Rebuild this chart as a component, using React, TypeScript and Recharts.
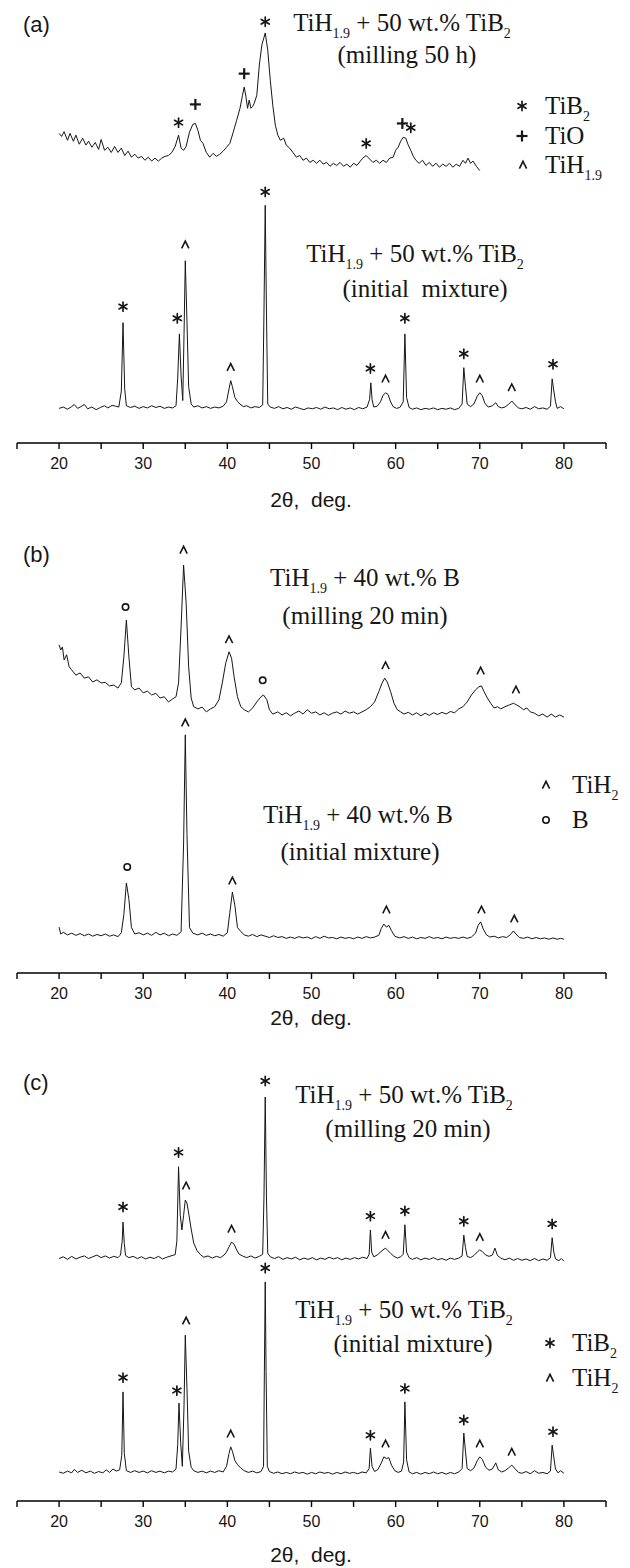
import React from 'react'
import { ComposedChart, Line, Scatter, XAxis, YAxis } from 'recharts'

type Pt = [number, number]
type Mk = [number, number, string]

const xTicks = [15, 20, 25, 30, 35, 40, 45, 50, 55, 60, 65, 70, 75, 80, 85]
const xTitle = '2\u03b8,\u00a0 deg.'

// (a) TiH1.9 + 50 wt.% TiB2, milling 50 h (offset upward)
const aMilled: Pt[] = [
  [20.0, 71.5], [20.3, 70.8], [20.6, 71.9], [21.0, 69.9], [21.3, 71.5], [21.7, 69.7], [22.0, 71.1], [22.4, 69.0],
  [22.8, 70.4], [23.2, 68.8], [23.5, 69.7], [23.9, 68.3], [24.3, 69.4], [24.7, 67.8], [25.0, 70.1], [25.4, 67.6],
  [25.8, 68.3], [26.2, 67.1], [26.6, 68.5], [27.0, 67.1], [27.4, 68.1], [27.8, 66.4], [28.2, 67.4], [28.6, 66.0],
  [29.0, 66.7], [29.4, 65.8], [29.8, 66.2], [30.2, 65.3], [30.6, 66.0], [31.0, 65.1], [31.4, 65.8], [31.8, 65.1],
  [32.2, 65.8], [32.6, 66.2], [33.0, 66.4], [33.4, 67.1], [33.8, 68.5], [34.2, 71.1], [34.5, 68.1], [34.8, 67.6],
  [35.1, 68.5], [35.5, 71.8], [35.9, 73.6], [36.2, 73.8], [36.5, 72.2], [36.8, 69.9], [37.1, 69.2], [37.5, 67.1],
  [37.9, 66.0], [38.3, 66.9], [38.7, 66.2], [39.1, 66.7], [39.5, 67.4], [39.9, 68.3], [40.3, 69.2], [40.7, 71.8],
  [41.1, 74.5], [41.5, 77.3], [41.8, 80.3], [42.0, 82.2], [42.2, 80.1], [42.4, 77.3], [42.6, 79.2], [42.8, 77.3],
  [43.0, 77.7], [43.2, 78.5], [43.5, 80.3], [43.8, 87.3], [44.1, 91.9], [44.5, 94.7], [44.8, 90.8], [45.1, 83.8],
  [45.4, 78.0], [45.7, 73.4], [46.0, 71.1], [46.3, 69.9], [46.7, 70.4], [47.0, 68.8], [47.4, 68.1], [47.8, 67.1],
  [48.2, 66.0], [48.6, 66.4], [49.0, 65.3], [49.4, 65.8], [49.8, 64.8], [50.2, 65.3], [50.6, 64.6], [51.0, 65.3],
  [51.4, 64.4], [51.8, 64.8], [52.2, 63.9], [52.6, 64.6], [53.0, 64.1], [53.4, 64.8], [53.8, 63.9], [54.2, 64.4],
  [54.6, 63.7], [55.0, 64.6], [55.4, 64.1], [55.8, 65.1], [56.1, 65.8], [56.5, 66.4], [56.9, 65.6], [57.3, 64.8],
  [57.7, 65.3], [58.1, 64.6], [58.5, 65.3], [58.9, 64.8], [59.3, 65.8], [59.7, 66.0], [60.0, 67.6], [60.3, 68.3],
  [60.6, 69.7], [60.9, 70.6], [61.2, 70.4], [61.5, 68.8], [61.8, 67.6], [62.1, 66.2], [62.4, 65.3], [62.8, 64.6],
  [63.2, 65.3], [63.6, 64.1], [64.0, 64.8], [64.4, 63.9], [64.8, 64.6], [65.2, 63.7], [65.6, 64.4], [66.0, 63.9],
  [66.4, 64.6], [66.8, 63.7], [67.2, 64.4], [67.6, 63.9], [68.0, 65.3], [68.3, 64.6], [68.6, 65.8], [68.9, 64.6],
  [69.2, 65.1], [69.6, 63.9], [70.0, 62.9],
]

// (a) initial mixture
const aInitial: Pt[] = [
  [20.0, 8.0], [20.5, 8.3], [21.0, 7.8], [21.5, 8.4], [21.8, 8.9], [22.2, 8.0], [22.7, 8.5], [23.0, 8.9],
  [23.4, 7.9], [23.9, 8.3], [24.4, 7.7], [24.9, 8.2], [25.4, 8.6], [25.8, 8.1], [26.3, 8.7], [26.7, 8.5],
  [27.1, 8.3], [27.4, 12.0], [27.6, 27.8], [27.8, 12.5], [28.0, 8.6], [28.5, 8.2], [29.0, 8.5], [29.5, 8.0],
  [30.0, 8.4], [30.5, 8.1], [31.0, 8.6], [31.5, 8.2], [32.0, 8.5], [32.5, 8.0], [33.0, 8.3], [33.5, 8.1],
  [33.9, 8.6], [34.1, 15.0], [34.3, 25.2], [34.5, 15.5], [34.7, 9.8], [34.85, 25.0], [35.0, 42.1], [35.2, 28.0],
  [35.4, 13.0], [35.7, 9.0], [36.0, 8.3], [36.5, 8.6], [37.0, 8.1], [37.5, 8.4], [38.0, 8.0], [38.5, 8.3],
  [39.0, 8.1], [39.5, 8.5], [39.9, 9.5], [40.2, 12.5], [40.4, 14.4], [40.6, 13.0], [40.9, 10.5], [41.2, 9.6],
  [41.5, 9.0], [41.9, 8.4], [42.3, 8.6], [42.8, 8.1], [43.3, 8.4], [43.8, 8.2], [44.2, 8.8], [44.35, 30.0],
  [44.5, 54.9], [44.65, 30.0], [44.8, 9.0], [45.1, 8.3], [45.6, 8.0], [46.1, 8.4], [46.6, 7.9], [47.1, 8.2],
  [47.6, 7.8], [48.1, 8.3], [48.6, 8.0], [49.1, 7.7], [49.6, 8.1], [50.1, 7.9], [50.6, 8.2], [51.1, 7.8],
  [51.6, 8.3], [52.1, 7.9], [52.6, 8.1], [53.1, 7.7], [53.6, 8.2], [54.1, 7.8], [54.6, 8.1], [55.1, 7.7],
  [55.6, 8.2], [56.1, 7.9], [56.6, 8.3], [56.9, 10.0], [57.05, 13.9], [57.2, 10.0], [57.4, 8.3], [57.8, 8.5],
  [58.2, 9.5], [58.5, 11.0], [58.8, 11.6], [59.1, 11.2], [59.4, 9.5], [59.7, 8.4], [60.1, 8.0], [60.5, 8.2],
  [60.9, 9.5], [61.1, 25.2], [61.3, 10.5], [61.6, 8.2], [62.0, 7.8], [62.5, 8.1], [63.0, 7.7], [63.5, 8.0],
  [64.0, 7.8], [64.5, 8.1], [65.0, 7.7], [65.5, 8.0], [66.0, 7.8], [66.5, 8.1], [67.0, 7.7], [67.5, 8.0],
  [67.9, 9.0], [68.1, 17.4], [68.3, 13.0], [68.5, 9.0], [68.9, 8.4], [69.3, 9.0], [69.7, 10.8], [70.0, 11.6],
  [70.3, 10.9], [70.6, 9.2], [71.0, 8.3], [71.5, 8.6], [71.9, 9.3], [72.2, 8.4], [72.6, 8.1], [73.0, 8.3],
  [73.4, 8.9], [73.8, 9.7], [74.2, 8.8], [74.6, 8.1], [75.0, 7.9], [75.5, 8.2], [76.0, 7.8], [76.5, 8.4],
  [77.0, 7.9], [77.5, 8.1], [78.0, 7.8], [78.4, 8.5], [78.6, 14.8], [78.8, 12.0], [79.0, 9.5], [79.2, 8.0],
  [79.6, 8.4], [80.0, 7.9],
]

const aMarks: Mk[] = [
  [34.2, 74.0, '*'], [36.2, 78.2, '+'], [42.0, 85.3, '+'], [44.5, 97.3, '*'], [56.5, 69.2, '*'], [60.8, 73.8, '+'],
  [61.8, 72.8, '*'],
  [27.6, 31.5, '*'], [34.05, 28.8, '*'], [35.0, 45.8, '^'], [40.4, 17.5, '^'], [44.5, 58.0, '*'], [57.0, 17.2, '*'],
  [58.8, 14.8, '^'], [61.1, 28.8, '*'], [68.1, 20.6, '*'], [70.0, 14.8, '^'], [73.8, 12.8, '^'], [78.7, 18.2, '*'],
]

// (b) TiH1.9 + 40 wt.% B, milling 20 min
const bMilled: Pt[] = [
  [20.0, 75.8], [20.2, 74.6], [20.4, 75.3], [20.6, 72.3], [20.9, 73.5], [21.2, 70.7], [21.5, 70.0], [22.0, 68.8],
  [22.5, 69.3], [23.0, 68.1], [23.5, 68.4], [24.0, 67.2], [24.5, 67.7], [25.0, 67.0], [25.5, 67.1], [26.0, 66.3],
  [26.5, 66.5], [27.0, 65.8], [27.4, 67.0], [27.7, 73.0], [28.0, 81.5], [28.3, 73.0], [28.6, 66.1], [29.0, 65.4],
  [29.5, 65.8], [30.0, 64.7], [30.5, 65.1], [31.0, 64.2], [31.5, 64.6], [32.0, 63.5], [32.5, 63.8], [33.0, 62.6],
  [33.5, 63.3], [33.9, 63.8], [34.2, 67.0], [34.5, 79.9], [34.8, 94.2], [35.1, 85.5], [35.4, 70.7], [35.7, 63.5],
  [36.0, 61.5], [36.5, 61.0], [37.0, 61.4], [37.5, 60.3], [38.0, 61.0], [38.5, 61.5], [39.0, 63.1], [39.4, 67.0],
  [39.8, 71.5], [40.2, 74.2], [40.5, 72.7], [40.8, 68.4], [41.2, 63.8], [41.6, 61.5], [42.0, 60.8], [42.5, 60.3],
  [43.0, 61.2], [43.5, 62.6], [44.0, 63.8], [44.3, 64.2], [44.7, 63.1], [45.0, 60.8], [45.4, 59.8], [46.0, 60.3],
  [46.5, 59.6], [47.0, 60.1], [47.5, 59.4], [48.0, 60.0], [48.5, 60.5], [49.0, 59.8], [49.5, 60.8], [50.0, 60.0],
  [50.5, 60.3], [51.0, 59.6], [51.5, 60.1], [52.0, 59.5], [52.5, 60.0], [53.0, 60.3], [53.5, 59.8], [54.0, 60.5],
  [54.5, 60.0], [55.0, 60.3], [55.5, 59.8], [56.0, 60.3], [56.5, 60.8], [57.0, 61.5], [57.5, 62.6], [58.0, 65.0],
  [58.4, 67.0], [58.7, 68.1], [59.0, 67.2], [59.4, 65.0], [59.8, 62.3], [60.2, 60.8], [60.6, 60.3], [61.0, 59.8],
  [61.5, 60.2], [62.0, 59.6], [62.5, 60.1], [63.0, 59.4], [63.5, 60.0], [64.0, 59.5], [64.5, 60.1], [65.0, 59.7],
  [65.5, 60.2], [66.0, 59.8], [66.5, 60.4], [67.0, 60.1], [67.5, 61.0], [68.0, 61.5], [68.5, 62.6], [69.0, 64.2],
  [69.5, 65.4], [69.9, 66.1], [70.2, 66.3], [70.5, 65.0], [70.9, 63.5], [71.3, 62.3], [71.7, 61.2], [72.1, 61.5],
  [72.5, 61.0], [73.0, 61.5], [73.5, 61.9], [74.0, 62.3], [74.4, 61.9], [74.8, 61.4], [75.2, 60.8], [75.6, 61.2],
  [76.0, 60.3], [76.5, 60.0], [77.0, 59.4], [77.5, 59.8], [78.0, 59.1], [78.5, 59.8], [79.0, 59.1], [79.5, 59.6],
  [80.0, 59.1],
]

// (b) initial mixture
const bInitial: Pt[] = [
  [20.0, 10.6], [20.2, 9.0], [20.5, 9.4], [21.0, 8.8], [21.5, 9.2], [22.0, 8.7], [22.5, 9.1], [23.0, 8.6],
  [23.5, 9.0], [24.0, 8.5], [24.5, 8.9], [25.0, 8.6], [25.5, 9.0], [26.0, 8.5], [26.5, 8.8], [27.0, 8.4],
  [27.4, 9.3], [27.7, 13.5], [28.0, 20.8], [28.3, 17.0], [28.6, 10.5], [29.0, 9.0], [29.5, 9.3], [30.0, 8.8],
  [30.5, 9.2], [31.0, 8.7], [31.5, 9.4], [32.0, 8.8], [32.5, 9.2], [33.0, 8.6], [33.5, 9.0], [34.0, 8.7],
  [34.5, 9.5], [34.8, 30.0], [35.0, 55.0], [35.2, 32.0], [35.5, 10.5], [35.9, 9.2], [36.5, 8.8], [37.0, 9.2],
  [37.5, 8.7], [38.0, 9.0], [38.5, 8.6], [39.0, 8.9], [39.5, 8.5], [40.0, 9.3], [40.3, 14.0], [40.6, 18.7],
  [40.9, 15.5], [41.2, 10.5], [41.6, 9.6], [42.0, 8.8], [42.5, 8.5], [43.0, 8.9], [43.5, 8.4], [44.0, 8.8],
  [44.5, 8.5], [45.0, 8.2], [45.5, 8.6], [46.0, 8.2], [46.5, 8.4], [47.0, 8.0], [47.5, 8.3], [48.0, 8.0],
  [48.5, 8.4], [49.0, 8.1], [49.5, 8.3], [50.0, 7.9], [50.5, 8.4], [51.0, 8.0], [51.5, 8.5], [52.0, 8.1],
  [52.5, 8.2], [53.0, 7.9], [53.5, 8.3], [54.0, 8.0], [54.5, 8.2], [55.0, 7.9], [55.5, 8.3], [56.0, 8.0],
  [56.5, 8.4], [57.0, 8.1], [57.5, 8.3], [58.0, 8.7], [58.3, 10.3], [58.6, 11.3], [58.9, 10.6], [59.2, 11.0],
  [59.5, 9.8], [59.9, 8.5], [60.5, 8.1], [61.0, 8.4], [61.5, 8.0], [62.0, 8.3], [62.5, 7.9], [63.0, 8.2],
  [63.5, 8.0], [64.0, 8.4], [64.5, 8.0], [65.0, 8.2], [65.5, 7.9], [66.0, 8.3], [66.5, 8.0], [67.0, 8.2],
  [67.5, 8.0], [68.0, 8.3], [68.5, 8.0], [69.0, 8.3], [69.5, 9.2], [69.8, 11.0], [70.1, 11.8], [70.4, 10.2],
  [70.8, 8.8], [71.2, 8.3], [71.7, 8.5], [72.2, 8.1], [72.7, 8.4], [73.2, 8.2], [73.6, 8.8], [74.0, 9.7],
  [74.3, 9.0], [74.7, 8.2], [75.2, 8.0], [75.7, 8.3], [76.2, 7.9], [76.7, 8.2], [77.2, 7.9], [77.7, 8.1],
  [78.2, 7.8], [78.7, 8.1], [79.2, 7.8], [79.6, 8.0], [80.0, 7.8],
]

const bMarks: Mk[] = [
  [27.9, 84.5, 'o'], [34.8, 97.7, '^'], [40.2, 77.0, '^'], [44.2, 67.6, 'o'], [58.8, 71.0, '^'], [70.1, 69.8, '^'],
  [74.3, 65.4, '^'],
  [28.1, 24.5, 'o'], [35.0, 57.8, '^'], [40.6, 21.3, '^'], [58.9, 14.6, '^'], [70.2, 14.6, '^'], [74.1, 12.5, '^'],
]

// (c) TiH1.9 + 50 wt.% TiB2, milling 20 min
const cMilled: Pt[] = [
  [20.0, 56.0], [20.5, 56.4], [21.0, 55.8], [21.5, 56.5], [22.0, 55.9], [22.5, 56.3], [23.0, 56.6], [23.5, 56.0],
  [24.0, 56.4], [24.5, 56.8], [25.0, 56.2], [25.5, 56.6], [26.0, 56.1], [26.5, 56.5], [27.0, 56.2], [27.3, 56.8],
  [27.5, 60.0], [27.6, 64.4], [27.75, 59.5], [27.9, 56.7], [28.3, 56.2], [28.8, 56.5], [29.3, 56.0], [29.8, 56.4],
  [30.3, 55.9], [30.8, 56.3], [31.3, 56.0], [31.8, 56.5], [32.3, 55.9], [32.8, 56.3], [33.3, 56.6], [33.8, 56.9],
  [34.0, 60.0], [34.2, 77.2], [34.4, 66.0], [34.6, 62.6], [34.8, 66.0], [35.0, 69.5], [35.2, 68.8], [35.4, 66.5],
  [35.7, 62.8], [36.0, 59.6], [36.4, 57.8], [36.8, 56.9], [37.2, 56.3], [37.7, 56.6], [38.2, 56.1], [38.7, 56.5],
  [39.2, 56.2], [39.6, 56.8], [39.9, 57.5], [40.2, 58.7], [40.5, 59.8], [40.8, 59.3], [41.1, 58.0], [41.4, 57.0],
  [41.8, 56.6], [42.3, 56.2], [42.8, 56.6], [43.3, 56.1], [43.8, 56.5], [44.2, 57.0], [44.35, 70.0], [44.5, 93.3],
  [44.65, 70.0], [44.8, 57.2], [45.1, 56.4], [45.6, 56.0], [46.1, 56.4], [46.6, 55.8], [47.1, 56.2], [47.6, 55.9],
  [48.1, 56.3], [48.6, 55.7], [49.1, 56.1], [49.6, 55.8], [50.1, 56.2], [50.6, 55.7], [51.1, 56.1], [51.6, 55.8],
  [52.1, 56.3], [52.6, 55.9], [53.1, 56.2], [53.6, 55.7], [54.1, 56.1], [54.6, 55.8], [55.1, 56.2], [55.6, 55.9],
  [56.1, 56.3], [56.6, 56.0], [56.85, 57.0], [57.0, 62.6], [57.15, 57.5], [57.4, 56.4], [57.8, 56.8], [58.2, 57.5],
  [58.5, 58.0], [58.8, 58.4], [59.1, 57.8], [59.4, 57.2], [59.8, 56.5], [60.2, 56.1], [60.6, 56.4], [60.9, 57.0],
  [61.1, 63.8], [61.3, 57.5], [61.6, 56.2], [62.0, 55.8], [62.5, 56.2], [63.0, 55.7], [63.5, 56.1], [64.0, 55.8],
  [64.5, 56.2], [65.0, 55.7], [65.5, 56.0], [66.0, 55.6], [66.5, 56.1], [67.0, 55.8], [67.5, 56.1], [67.9, 56.6],
  [68.1, 61.4], [68.3, 58.5], [68.5, 56.5], [68.9, 56.2], [69.3, 56.7], [69.7, 57.5], [70.0, 58.0], [70.3, 57.6],
  [70.7, 56.8], [71.1, 56.5], [71.5, 56.8], [71.8, 58.4], [72.1, 56.7], [72.5, 56.1], [73.0, 55.7], [73.5, 56.1],
  [74.0, 55.6], [74.5, 56.0], [75.0, 55.6], [75.5, 55.9], [76.0, 55.5], [76.5, 56.0], [77.0, 55.5], [77.5, 55.9],
  [78.0, 55.6], [78.4, 56.2], [78.6, 60.8], [78.8, 57.5], [79.0, 55.9], [79.4, 55.5], [79.7, 56.0], [80.0, 55.4],
]

// (c) initial mixture
const cInitial: Pt[] = [
  [20.0, 6.7], [20.5, 6.4], [21.0, 6.9], [21.5, 6.5], [21.8, 7.3], [22.2, 6.6], [22.7, 7.1], [23.2, 6.5],
  [23.7, 6.9], [24.2, 6.4], [24.7, 6.8], [25.2, 6.5], [25.6, 7.2], [26.0, 6.6], [26.4, 7.4], [26.8, 6.9],
  [27.2, 7.2], [27.45, 10.5], [27.6, 25.2], [27.75, 11.0], [28.0, 7.0], [28.5, 6.6], [29.0, 7.0], [29.5, 6.6],
  [30.0, 6.9], [30.5, 6.5], [31.0, 7.0], [31.5, 6.6], [32.0, 6.9], [32.5, 6.5], [33.0, 6.9], [33.5, 6.7],
  [33.9, 7.4], [34.1, 13.0], [34.25, 22.6], [34.45, 13.5], [34.65, 8.0], [34.85, 22.0], [35.0, 38.3], [35.2, 26.0],
  [35.4, 11.5], [35.7, 7.8], [36.0, 7.0], [36.5, 6.6], [37.0, 6.9], [37.5, 6.5], [38.0, 6.9], [38.5, 6.6],
  [39.0, 7.0], [39.5, 6.7], [39.9, 8.0], [40.2, 11.0], [40.4, 12.5], [40.6, 11.5], [40.9, 9.3], [41.2, 8.4],
  [41.6, 7.6], [42.0, 7.0], [42.5, 6.6], [43.0, 6.9], [43.5, 6.5], [44.0, 6.8], [44.3, 8.0], [44.4, 30.0],
  [44.5, 50.6], [44.6, 30.0], [44.75, 8.0], [45.0, 6.8], [45.5, 6.4], [46.0, 6.7], [46.5, 6.3], [47.0, 6.6],
  [47.5, 6.3], [48.0, 6.7], [48.5, 6.4], [49.0, 6.6], [49.5, 6.2], [50.0, 6.6], [50.5, 6.3], [51.0, 6.7],
  [51.5, 6.4], [52.0, 6.6], [52.5, 6.2], [53.0, 6.6], [53.5, 6.3], [54.0, 6.7], [54.5, 6.4], [55.0, 6.6],
  [55.5, 6.3], [56.0, 6.7], [56.5, 6.5], [56.85, 7.5], [57.0, 12.2], [57.2, 8.0], [57.5, 6.8], [57.9, 7.3],
  [58.3, 8.8], [58.6, 10.2], [58.9, 9.8], [59.2, 10.0], [59.5, 8.3], [59.9, 7.0], [60.3, 6.6], [60.7, 6.9],
  [60.95, 9.0], [61.1, 22.9], [61.3, 9.5], [61.6, 6.7], [62.0, 6.3], [62.5, 6.6], [63.0, 6.2], [63.5, 6.6],
  [64.0, 6.3], [64.5, 6.7], [65.0, 6.3], [65.5, 6.6], [66.0, 6.2], [66.5, 6.6], [67.0, 6.3], [67.5, 6.7],
  [67.9, 7.5], [68.1, 15.7], [68.3, 11.5], [68.5, 7.5], [68.9, 7.0], [69.3, 7.6], [69.7, 9.3], [70.0, 10.2],
  [70.3, 9.6], [70.7, 7.8], [71.1, 7.1], [71.5, 7.4], [71.9, 8.8], [72.2, 7.2], [72.6, 6.7], [73.0, 7.0],
  [73.4, 7.6], [73.8, 8.3], [74.2, 7.4], [74.6, 6.6], [75.0, 6.4], [75.5, 6.8], [76.0, 6.3], [76.5, 7.0],
  [77.0, 6.4], [77.5, 6.6], [78.0, 6.3], [78.4, 6.9], [78.6, 12.9], [78.8, 10.0], [79.0, 7.4], [79.3, 6.5],
  [79.6, 7.0], [80.0, 6.4],
]

const cMarks: Mk[] = [
  [27.6, 67.9, '*'], [34.2, 80.5, '*'], [35.1, 72.8, '^'], [40.5, 62.8, '^'], [44.5, 97.0, '*'], [57.0, 65.8, '*'],
  [58.8, 61.4, '^'], [61.1, 67.0, '*'], [68.1, 64.6, '*'], [70.0, 60.9, '^'], [78.6, 64.0, '*'],
  [27.6, 28.5, '*'], [34.0, 25.5, '*'], [35.1, 41.6, '^'], [40.4, 15.5, '^'], [44.5, 53.8, '*'], [57.0, 15.2, '*'],
  [58.8, 13.2, '^'], [61.1, 26.0, '*'], [68.1, 18.7, '*'], [70.0, 13.2, '^'], [73.8, 11.3, '^'], [78.7, 16.0, '*'],
]

const INK = '#161616'
const SERIF = '"Liberation Serif", "Times New Roman", serif'
const SANS = '"Liberation Sans", Arial, sans-serif'
const W = 630
const H = 540
// plot area: y 10..443, x 17..606 (x axis itself takes 30px)
const MARGIN = { top: 10, right: 24, left: 17, bottom: 67 }

const pts = (arr: Pt[]) => arr.map(([x, y]) => ({ x, y }))
const marks = (arr: Mk[]) => arr.map(([x, y, s]) => ({ x, y, s }))

function Glyph({ x, y, s }: { x: number; y: number; s: string }) {
  if (s === '*') {
    return (
      <g stroke={INK} strokeWidth={1.7} strokeLinecap="round">
        <line x1={x} y1={y - 4.6} x2={x} y2={y + 4.6} />
        <line x1={x - 4} y1={y - 2.3} x2={x + 4} y2={y + 2.3} />
        <line x1={x - 4} y1={y + 2.3} x2={x + 4} y2={y - 2.3} />
      </g>
    )
  }
  if (s === '+') {
    return (
      <g stroke={INK} strokeWidth={2.2}>
        <line x1={x - 5.5} y1={y} x2={x + 5.5} y2={y} />
        <line x1={x} y1={y - 5.5} x2={x} y2={y + 5.5} />
      </g>
    )
  }
  if (s === '^') {
    return <polyline points={`${x - 3.6},${y + 3.6} ${x},${y - 3.6} ${x + 3.6},${y + 3.6}`} fill="none" stroke={INK} strokeWidth={1.6} />
  }
  return <circle cx={x} cy={y} r={3.2} fill="none" stroke={INK} strokeWidth={1.6} />
}

const MarkShape = (props: any) => <Glyph x={props.cx} y={props.cy} s={props.payload.s} />

const XTick = (props: any) => {
  const { x, y, payload } = props
  if (payload.value % 10 !== 0) return <g />
  return (
    <text x={x} y={y} dy="0.71em" textAnchor="middle" fontFamily={SANS} fontSize={16} fill={INK}>
      {payload.value}
    </text>
  )
}

// formula with subscripts
function Formula({ x, y, parts, size = 25, anchor = 'middle' }: { x: number; y: number; parts: [string, boolean][]; size?: number; anchor?: string }) {
  let shift = 0
  return (
    <text x={x} y={y} textAnchor={anchor as any} fontFamily={SERIF} fontSize={size} fill={INK}>
      {parts.map(([t, sub], i) => {
        const target = sub ? size * 0.28 : 0
        const dy = target - shift
        shift = target
        return (
          <tspan key={i} dy={dy} fontSize={sub ? size * 0.56 : size}>
            {t}
          </tspan>
        )
      })}
    </text>
  )
}

const tiH19: [string, boolean][] = [['TiH', false], ['1.9', true]]
const fTiB2: [string, boolean][] = [...tiH19, [' + 50 wt.% TiB', false], ['2', true]]
const fB: [string, boolean][] = [...tiH19, [' + 40 wt.% B', false]]

function Plain({ x, y, text }: { x: number; y: number; text: string }) {
  return (
    <text x={x} y={y} textAnchor="middle" fontFamily={SERIF} fontSize={25} fill={INK}>
      {text}
    </text>
  )
}

function Panel({ top, letter, milled, initial, mk, titleY, children }: any) {
  return (
    <div style={{ position: 'absolute', left: 0, top, width: W, height: H }}>
      <ComposedChart width={W} height={H} margin={MARGIN}>
        <XAxis
          type="number"
          dataKey="x"
          domain={[15, 85]}
          ticks={xTicks}
          interval={0}
          allowDataOverflow
          tick={<XTick />}
          tickSize={6}
          tickMargin={9}
          axisLine={{ stroke: '#000', strokeWidth: 1.6 }}
          tickLine={{ stroke: '#000', strokeWidth: 1.4 }}
        />
        <YAxis
          type="number"
          dataKey="y"
          domain={[0, 100]}
          width={0}
          tick={false}
          tickLine={false}
          allowDataOverflow
          axisLine={{ stroke: '#000', strokeWidth: 1.6 }}
        />
        <Line data={pts(milled)} dataKey="y" type="linear" dot={false} stroke={INK} strokeWidth={1} isAnimationActive={false} />
        <Line data={pts(initial)} dataKey="y" type="linear" dot={false} stroke={INK} strokeWidth={1} isAnimationActive={false} />
        <Scatter data={marks(mk)} dataKey="y" shape={MarkShape} isAnimationActive={false} />
      </ComposedChart>
      <svg width={W} height={H} style={{ position: 'absolute', left: 0, top: 0, pointerEvents: 'none' }}>
        <text x={23} y={32} fontFamily={SANS} fontSize={22} fill={INK}>
          ({letter})
        </text>
        <text x={311} y={titleY} textAnchor="middle" fontFamily={SANS} fontSize={21} fill={INK}>
          {xTitle}
        </text>
        {children}
      </svg>
    </div>
  )
}

export default function App() {
  return (
    <div style={{ position: 'absolute', left: 0, top: 0, width: 630, height: 1568, background: '#fff' }}>
      <Panel top={0} letter="a" milled={aMilled} initial={aInitial} mk={aMarks} titleY={507}>
        <Formula x={402} y={31} parts={fTiB2} />
        <Plain x={407} y={63} text="(milling 50 h)" />
        <Formula x={415} y={262} parts={fTiB2} />
        <Plain x={425} y={297} text={'(initial\u00a0 mixture)'} />
        <Glyph x={522} y={106} s="*" />
        <Formula x={545} y={114} parts={[['TiB', false], ['2', true]]} anchor="start" />
        <Glyph x={522} y={136} s="+" />
        <Formula x={545} y={144} parts={[['TiO', false]]} anchor="start" />
        <Glyph x={523} y={165} s="^" />
        <Formula x={545} y={173} parts={tiH19} anchor="start" />
      </Panel>
      <Panel top={530} letter="b" milled={bMilled} initial={bInitial} mk={bMarks} titleY={495}>
        <Formula x={365} y={56} parts={fB} />
        <Plain x={365} y={94} text="(milling 20 min)" />
        <Formula x={358} y={293} parts={fB} />
        <Plain x={360} y={330} text="(initial mixture)" />
        <Glyph x={546} y={255} s="^" />
        <Formula x={572} y={263} parts={[['TiH', false], ['2', true]]} anchor="start" />
        <Glyph x={546} y={290} s="o" />
        <Formula x={572} y={298} parts={[['B', false]]} anchor="start" />
      </Panel>
      <Panel top={1058} letter="c" milled={cMilled} initial={cInitial} mk={cMarks} titleY={504}>
        <Formula x={404} y={45} parts={fTiB2} />
        <Plain x={408} y={79} text="(milling 20 min)" />
        <Formula x={404} y={260} parts={fTiB2} />
        <Plain x={413} y={294} text="(initial mixture)" />
        <Glyph x={550} y={285} s="*" />
        <Formula x={572} y={293} parts={[['TiB', false], ['2', true]]} anchor="start" />
        <Glyph x={550} y={320} s="^" />
        <Formula x={572} y={328} parts={[['TiH', false], ['2', true]]} anchor="start" />
      </Panel>
    </div>
  )
}
